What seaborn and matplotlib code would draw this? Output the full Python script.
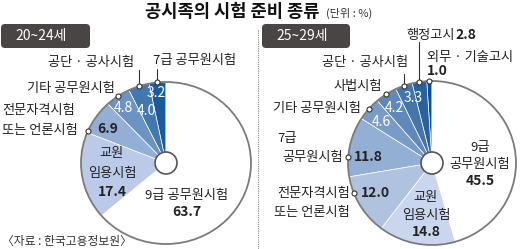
import numpy as np
import matplotlib
matplotlib.use("Agg")
import matplotlib.pyplot as plt
from matplotlib.patches import Circle, Ellipse, FancyBboxPatch
import seaborn as sns

# ---------------- data ----------------
title = "공시족의 시험 준비 종류"
unit = "(단위 : %)"
source = "〈자료 : 한국고용정보원〉"
left_group = "20~24세"
right_group = "25~29세"

left_labels = ["7급 공무원시험", "공단 · 공사시험", "기타 공무원시험",
               "전문자격시험 또는 언론시험", "교원 임용시험", "9급 공무원시험"]
left_values = [3.2, 4.0, 4.8, 6.9, 17.4, 63.7]

right_labels = ["외무 · 기술고시", "행정고시", "공단 · 공사시험", "사법시험",
                "기타 공무원시험", "7급 공무원시험", "전문자격시험 또는 언론시험",
                "교원 임용시험", "9급 공무원시험"]
right_values = [1.0, 2.8, 3.3, 4.2, 4.6, 11.8, 12.0, 14.8, 45.5]

# ---------------- style ----------------
sns.set_theme(style="white")
plt.rcParams["font.family"] = ["Noto Sans CJK KR", "DejaVu Sans"]

W, H = 520, 249
fig = plt.figure(figsize=(W / 100, H / 100), dpi=100)
fig.patch.set_facecolor("white")

left_colors = list(sns.blend_palette(["#1a5b9b", "#bccaea"], len(left_values) - 1)) + ["white"]
right_colors = list(sns.blend_palette(["#0d4f93", "#cad6ee"], len(right_values) - 1)) + ["white"]

TXT = "#222222"
LINE = "#333333"
FS = 9.5
NFS = 10


def Y(y):
    return H - y


def pie_panel(values, colors, cx, cy, rx, ry):
    ax = fig.add_axes([(cx - rx) / W, (H - cy - ry) / H, 2 * rx / W, 2 * ry / H])
    wedges, _ = ax.pie(values, colors=colors, startangle=90, counterclock=True,
                       radius=1, wedgeprops=dict(edgecolor="white", linewidth=0.5))
    ax.set_xlim(-1, 1)
    ax.set_ylim(-1, 1)
    ax.set_aspect("auto")
    ax.axis("off")
    ax.add_patch(Ellipse((0, 0), 2, 2, fill=False, edgecolor="#7b7b7b", lw=1.3, clip_on=False))
    return wedges


def anchor(w, cx, cy, rx, ry, frac=0.5):
    th = np.deg2rad(w.theta1 + frac * (w.theta2 - w.theta1))
    return cx + rx * np.cos(th), cy - ry * np.sin(th)


# pies
LCX, LCY, LRX, LRY = 166, 163, 85, 81
RCX, RCY, RRX, RRY = 432, 163, 84, 82
lw_ = pie_panel(left_values, left_colors, LCX, LCY, LRX, LRY)
rw_ = pie_panel(right_values, right_colors, RCX, RCY, RRX, RRY)

# overlay in pixel coordinates
ov = fig.add_axes([0, 0, 1, 1])
ov.set_xlim(0, W)
ov.set_ylim(0, H)
ov.axis("off")


def t(x, y, s, **kw):
    kw.setdefault("fontsize", FS)
    kw.setdefault("color", TXT)
    kw.setdefault("ha", "center")
    kw.setdefault("va", "center")
    ov.text(x, Y(y), s, **kw)


def num(x, y, v, **kw):
    kw.setdefault("fontsize", NFS)
    t(x, y, f"{v:.1f}", **kw)


def mark(x, y):
    ov.plot([x], [Y(y)], "o", ms=3.6, mfc="white", mec=LINE, mew=0.8, zorder=8)


def lead(pts):
    xs = [p[0] for p in pts]
    ys = [Y(p[1]) for p in pts]
    ov.plot(xs, ys, color=LINE, lw=0.8, zorder=7)


# holes
for cx, cy in [(LCX, LCY), (RCX, RCY)]:
    ov.add_patch(Circle((cx, Y(cy)), 11, fc="white", ec="#555555", lw=1.2, zorder=6))

# title
t(145, 12, title, fontsize=12.7, fontweight="bold", ha="left", color="#111111")
t(326, 13, unit, fontsize=8, ha="left", color="#333333")

# group boxes
for x0, x1, lab in [(1, 90, left_group), (262, 350, right_group)]:
    ov.add_patch(FancyBboxPatch((x0, Y(48)), x1 - x0, 24, boxstyle="round,pad=0,rounding_size=4",
                                fc="#4a4545", ec="none"))
    t(x0 + 14, 36, lab, color="white", fontsize=10, ha="left")

# separator
ov.plot([258, 258], [Y(30), Y(249)], color="#888888", lw=0.8, ls=(0, (1, 1)))

# source
t(2, 241, source, fontsize=8.5, ha="left", color="#333333")

# ---------- left pie labels ----------
# 7급
x, y = anchor(lw_[0], LCX, LCY, LRX, LRY)
mark(x, y); lead([(x, y), (x, 69)])
t(195, 60, left_labels[0])
num(156, 93, left_values[0], color="white")
# 공단 공사
x, y = anchor(lw_[1], LCX, LCY, LRX, LRY)
mark(x, y); lead([(x, y), (x, 70)])
t(134, 62, left_labels[1], ha="right")
num(146, 111, left_values[1], color="white")
# 기타
x, y = anchor(lw_[2], LCX, LCY, LRX, LRY)
mark(x, y)
t(115, 88, left_labels[2], ha="right")
num(123, 108, left_values[2], color="white")
# 전문자격
x, y = anchor(lw_[3], LCX, LCY, LRX, LRY, 0.95)
mark(x, y)
t(2, 110, "전문자격시험", ha="left")
t(2, 130, "또는 언론시험", ha="left")
num(108, 129, left_values[3], fontweight="bold")
# 교원
t(112, 153, "교원")
t(112, 173, "임용시험")
num(112, 192, left_values[4], fontweight="bold")
# 9급
t(187, 195, left_labels[5])
num(187, 212, left_values[5], fontweight="bold")

# ---------- right pie labels ----------
# 외무 기술고시
x, y = anchor(rw_[0], RCX, RCY, RRX, RRY)
mark(x, y)
t(427, 57, right_labels[0], ha="left")
num(427, 71, right_values[0], ha="left", fontweight="bold")
# 행정고시
x, y = anchor(rw_[1], RCX, RCY, RRX, RRY)
mark(x, y); lead([(x, y), (x, 42)])
t(406, 35, right_labels[1], ha="left")
num(455, 35, right_values[1], ha="left", fontweight="bold")
# 공단 공사
x, y = anchor(rw_[2], RCX, RCY, RRX, RRY)
mark(x, y); lead([(x, y), (x, 74)])
t(408, 62, right_labels[2], ha="right")
num(413, 98, right_values[2], color="white")
# 사법시험
x, y = anchor(rw_[3], RCX, RCY, RRX, RRY)
mark(x, y)
t(382, 86, right_labels[3], ha="right")
num(394, 108, right_values[3], color="white")
# 기타
x, y = anchor(rw_[4], RCX, RCY, RRX, RRY)
mark(x, y)
t(361, 108, right_labels[4], ha="right")
num(381, 122, right_values[4], color="white")
# 7급
x, y = anchor(rw_[5], RCX, RCY, RRX, RRY, 0.68)
mark(x, y)
t(277, 138, "7급", ha="left")
t(343, 157, "공무원시험", ha="right")
num(368, 157, right_values[5], fontweight="bold")
# 전문자격
x, y = anchor(rw_[6], RCX, RCY, RRX, RRY, 0.27)
mark(x, y)
t(350, 193, "전문자격시험", ha="right")
t(350, 212, "또는 언론시험", ha="right")
num(375, 193, right_values[6], fontweight="bold")
# 교원
t(426, 197, "교원")
t(426, 215, "임용시험")
num(426, 232, right_values[7], fontweight="bold")
# 9급
t(480, 147, "9급")
t(480, 164, "공무원시험")
num(480, 181, right_values[8], fontweight="bold")

fig.savefig("out.png", dpi=100, facecolor="white")
